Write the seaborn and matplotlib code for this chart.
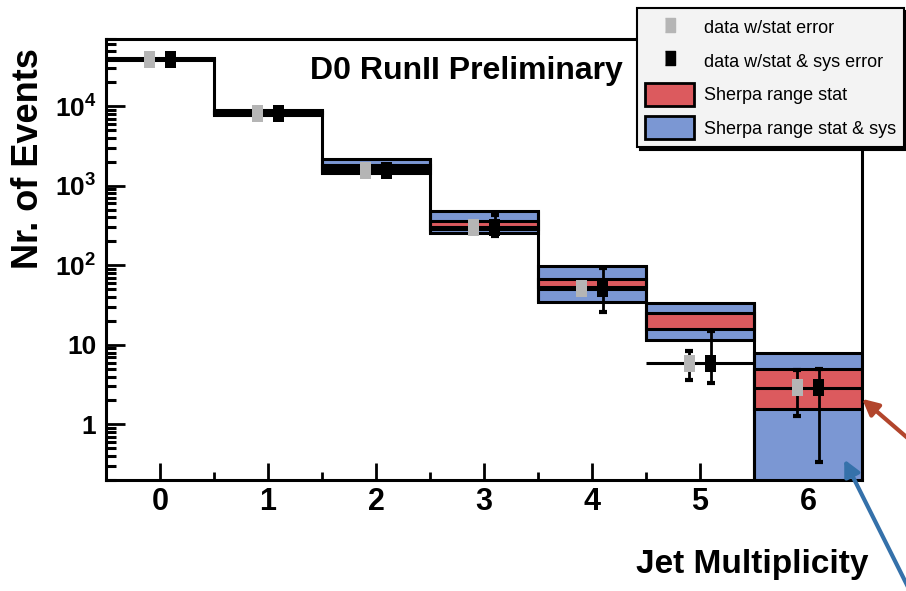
import matplotlib
matplotlib.use("Agg")
import matplotlib.pyplot as plt
import numpy as np
import pandas as pd
import seaborn as sns
from matplotlib.lines import Line2D
from matplotlib.patches import Patch
from matplotlib.ticker import FixedLocator, FixedFormatter, LogLocator, NullFormatter

# jet multiplicity bins
bins = [0, 1, 2, 3, 4, 5, 6]
bin_labels = ['0', '1', '2', '3', '4', '5', '6']

# measured data
data_vals = [39000, 8200, 1570, 300, 51, 5.9, 2.9]
data_stat_lo = [38800, 8150, 1530, 290, 46, 3.6, 1.26]
data_stat_hi = [39200, 8250, 1610, 310, 57, 8.3, 4.8]
data_tot_lo = [38000, 7900, 1450, 232, 26, 3.3, 0.34]
data_tot_hi = [40000, 8500, 1700, 425, 92, 15, 4.9]

# sherpa prediction bands
sherpa_sys_lo = [37800, 7850, 1440, 253, 35, 11.4, 0.05]
sherpa_sys_hi = [40300, 8900, 2200, 478, 97, 34, 7.8]
sherpa_stat_lo = [38700, 8150, 1650, 290, 53, 16, 1.55]
sherpa_stat_hi = [39400, 8500, 1850, 365, 67, 25, 4.9]

ytick_vals = [1, 10, 100, 1000, 10000]
ytick_labels = ['1', '10', r'$10^{2}$', r'$10^{3}$', r'$10^{4}$']

sns.set_theme(style='ticks')
plt.rcParams['font.family'] = ['Liberation Sans', 'DejaVu Sans']
plt.rcParams['mathtext.fontset'] = 'custom'
plt.rcParams['mathtext.bf'] = 'Liberation Sans:bold'
plt.rcParams['mathtext.rm'] = 'Liberation Sans:bold'
plt.rcParams['mathtext.default'] = 'bf'
for key in ['text.color', 'axes.labelcolor', 'xtick.color', 'ytick.color']:
    plt.rcParams[key] = 'black'

BLUE = '#7b97d3'
RED = '#dc5a5e'
GREY = '#b5b5b5'

df = pd.DataFrame({
    'bin': bins, 'val': data_vals,
    'stat_lo': data_stat_lo, 'stat_hi': data_stat_hi,
    'tot_lo': data_tot_lo, 'tot_hi': data_tot_hi,
    'sys_lo': sherpa_sys_lo, 'sys_hi': sherpa_sys_hi,
    'st_lo': sherpa_stat_lo, 'st_hi': sherpa_stat_hi,
})
df['x_stat'] = df['bin'] - 0.1
df['x_tot'] = df['bin'] + 0.1

fig = plt.figure(figsize=(9.06, 5.91), dpi=100)
ax = fig.add_axes([106 / 906, 1 - 480 / 591, 756 / 906, 441 / 591])

# sherpa bands
ax.bar(df['bin'], df['sys_hi'] - df['sys_lo'], bottom=df['sys_lo'], width=1.0,
       color=BLUE, edgecolor='black', linewidth=2.2, zorder=1)
ax.bar(df['bin'], df['st_hi'] - df['st_lo'], bottom=df['st_lo'], width=1.0,
       color=RED, edgecolor='black', linewidth=2.2, zorder=2)

# step outline joining neighbouring bins
edges = np.array(bins[:-1]) + 0.5
hi = df['sys_hi'].to_numpy()
lo = df['sys_lo'].to_numpy()
ax.vlines(edges, np.minimum(lo[:-1], lo[1:]), np.maximum(hi[:-1], hi[1:]),
          color='black', linewidth=2.2, zorder=3)

# data bin-width lines
ax.hlines(df['val'], df['bin'] - 0.5, df['bin'] + 0.5, color='black', linewidth=2.2, zorder=3)
for x_col, lo_col, hi_col in [('x_stat', 'stat_lo', 'stat_hi'), ('x_tot', 'tot_lo', 'tot_hi')]:
    ax.errorbar(df[x_col], df['val'],
                yerr=[df['val'] - df[lo_col], df[hi_col] - df['val']],
                fmt='none', ecolor='black', elinewidth=2, capsize=3, capthick=3, zorder=4)

rect = [(-0.33, -0.5), (0.33, -0.5), (0.33, 0.5), (-0.33, 0.5)]
sns.scatterplot(data=df, x='x_stat', y='val', marker=rect, s=150, color=GREY,
                edgecolor='none', ax=ax, zorder=5)
sns.scatterplot(data=df, x='x_tot', y='val', marker=rect, s=150, color='black',
                edgecolor='none', ax=ax, zorder=5)

ax.set_yscale('log')
ax.set_xlim(-0.5, 6.5)
ax.set_ylim(0.2, 70000)
ax.set_xticks(bins)
ax.set_xticklabels(bin_labels)
ax.set_xticks(edges, minor=True)
ax.yaxis.set_major_locator(FixedLocator(ytick_vals))
ax.yaxis.set_major_formatter(FixedFormatter(ytick_labels))
ax.yaxis.set_minor_locator(LogLocator(base=10, subs=np.arange(2, 10), numticks=20))
ax.yaxis.set_minor_formatter(NullFormatter())

for s in ax.spines.values():
    s.set_visible(True)
    s.set_linewidth(2.2)
    s.set_color('black')
ax.tick_params(axis='x', which='major', direction='in', length=12, width=2, pad=5,
               labelsize=22, top=False)
ax.tick_params(axis='x', which='minor', direction='in', length=6, width=2, top=False)
ax.tick_params(axis='y', which='major', direction='in', length=13.5, width=2, pad=7,
               labelsize=19, right=False)
ax.tick_params(axis='y', which='minor', direction='in', length=7, width=2.2, right=False)
for lab in ax.get_xticklabels() + ax.get_yticklabels():
    lab.set_fontweight('bold')

ax.set_ylabel('Nr. of Events', fontsize=26, fontweight='bold')
ax.yaxis.set_label_coords(-0.080, 0.73)
ax.set_xlabel('Jet Multiplicity', fontsize=24, fontweight='bold', loc='right')
ax.xaxis.set_label_coords(1.008, -0.156)

ax.text(0.27, 0.962, 'D0 RunII Preliminary', transform=ax.transAxes,
        fontsize=23, fontweight='bold', va='top', ha='left')

handles = [
    Line2D([], [], marker=rect, color=GREY, linestyle='none', markersize=10),
    Line2D([], [], marker=rect, color='black', linestyle='none', markersize=10),
    Patch(facecolor=RED, edgecolor='black', linewidth=2),
    Patch(facecolor=BLUE, edgecolor='black', linewidth=2),
]
leg = fig.legend(handles, ['data w/stat error', 'data w/stat & sys error',
                           'Sherpa range stat', 'Sherpa range stat & sys'],
                 loc='upper left', bbox_to_anchor=(637 / 906, 1 - 8 / 591),
                 fontsize=13, frameon=True, fancybox=False, framealpha=1,
                 facecolor='#f3f3f3', edgecolor='black', borderpad=0.45,
                 handlelength=2.7, handleheight=1.55, labelspacing=0.6,
                 handletextpad=0.55, borderaxespad=0,
                 shadow={'color': 'black', 'alpha': 1})
leg.get_frame().set_linewidth(1.5)

# pointer arrows at the right edge
ax.annotate('', xy=(860 / 906, 1 - 397 / 591), xytext=(925 / 906, 1 - 453 / 591),
            xycoords='figure fraction', textcoords='figure fraction',
            arrowprops=dict(arrowstyle='-|>,head_length=0.8,head_width=0.4',
                            color='#b2452c', lw=3), annotation_clip=False)
ax.annotate('', xy=(843 / 906, 1 - 457 / 591), xytext=(910 / 906, 1 - 591 / 591),
            xycoords='figure fraction', textcoords='figure fraction',
            arrowprops=dict(arrowstyle='-|>,head_length=0.8,head_width=0.4',
                            color='#3571aa', lw=3), annotation_clip=False)

fig.savefig('out.png', dpi=100)
